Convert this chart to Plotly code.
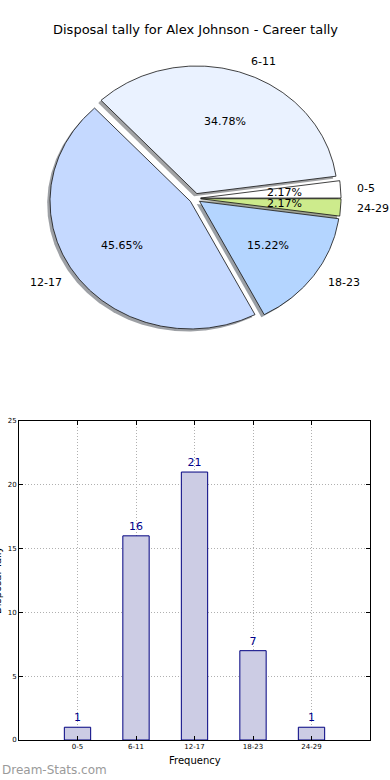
import numpy as np
import plotly.graph_objects as go

# ---- data ----
categories = ["0-5", "6-11", "12-17", "18-23", "24-29"]
tally = [1, 16, 21, 7, 1]
pie_colors = ["#ffffff", "#eaf2ff", "#c5d9ff", "#b4d5ff", "#cdeb8c"]
title_text = "Disposal tally for Alex Johnson - Career tally"
y_ticks = [0, 5, 10, 15, 20, 25]

# ---- styling params ----
explode = 0.04
shadow_off = (-0.02, -0.02)
label_dist = 1.1
pct_dist = 0.6
FONT = "DejaVu Sans"
W, H = 390, 780


def paper_y(y):
    return 1 - y / H


fig = go.Figure()

vals = np.array(tally, dtype=float)
fracs = vals / vals.sum()
cum = np.concatenate([[0.0], np.cumsum(fracs)]) * 360.0


def hex_rgb(h):
    h = h.lstrip("#")
    return tuple(int(h[i:i + 2], 16) for i in (0, 2, 4))


wedges = []
for i, cat in enumerate(categories):
    t1, t2 = np.radians(cum[i]), np.radians(cum[i + 1])
    mid = 0.5 * (t1 + t2)
    ox, oy = explode * np.cos(mid), explode * np.sin(mid)
    th = np.linspace(t1, t2, max(int(np.degrees(t2 - t1)) * 2, 8))
    xs = np.concatenate([[ox], ox + np.cos(th), [ox]])
    ys = np.concatenate([[oy], oy + np.sin(th), [oy]])
    wedges.append((xs, ys, mid, ox, oy))

# shadows first
for i, (xs, ys, mid, ox, oy) in enumerate(wedges):
    r, g, b = hex_rgb(pie_colors[i])
    fig.add_trace(go.Scatter(
        x=xs + shadow_off[0], y=ys + shadow_off[1], mode="lines", fill="toself",
        fillcolor=f"rgba({int(r*0.3)},{int(g*0.3)},{int(b*0.3)},0.5)",
        line=dict(width=0), hoverinfo="skip", showlegend=False,
        xaxis="x", yaxis="y"))

for i, (xs, ys, mid, ox, oy) in enumerate(wedges):
    fig.add_trace(go.Scatter(
        x=xs, y=ys, mode="lines", fill="toself", fillcolor=pie_colors[i],
        line=dict(color="#111111", width=0.8), hoverinfo="skip",
        showlegend=False, xaxis="x", yaxis="y"))

annotations = []
for i, (xs, ys, mid, ox, oy) in enumerate(wedges):
    lx = ox + label_dist * np.cos(mid)
    ly = oy + label_dist * np.sin(mid)
    annotations.append(dict(
        x=lx, y=ly, xref="x", yref="y", text=categories[i], showarrow=False,
        xanchor="left" if lx > 0 else "right", yanchor="middle",
        font=dict(family=FONT, size=11, color="black")))
    px_ = ox + pct_dist * np.cos(mid)
    py_ = oy + pct_dist * np.sin(mid)
    annotations.append(dict(
        x=px_, y=py_, xref="x", yref="y", text=f"{fracs[i]*100:.2f}%",
        showarrow=False, xanchor="center", yanchor="middle",
        font=dict(family=FONT, size=11, color="black")))

# ---- bar chart ----
fig.add_trace(go.Bar(
    x=categories, y=tally, width=0.45,
    marker=dict(color="#ccccE4", line=dict(color="#000080", width=1)),
    text=[str(v) for v in tally], textposition="outside",
    textfont=dict(family=FONT, size=11, color="#00008b"),
    cliponaxis=False, hoverinfo="skip", showlegend=False,
    xaxis="x2", yaxis="y2"))

annotations += [
    dict(x=0.5, y=paper_y(30), xref="paper", yref="paper", text=title_text,
         showarrow=False, xanchor="center", yanchor="middle",
         font=dict(family=FONT, size=13, color="black")),
    dict(x=(19 + 370) / 2 / W, y=paper_y(760), xref="paper", yref="paper",
         text="Frequency", showarrow=False, xanchor="center", yanchor="middle",
         font=dict(family=FONT, size=10, color="black")),
    dict(x=-3 / W, y=paper_y(580), xref="paper", yref="paper",
         text="Disposal Tally", textangle=-90, showarrow=False,
         xanchor="center", yanchor="middle",
         font=dict(family=FONT, size=10, color="black")),
    dict(x=0, y=paper_y(770), xref="paper", yref="paper",
         text="Dream-Stats.com", showarrow=False, xanchor="left",
         yanchor="middle", font=dict(family=FONT, size=12, color="#9a9a9a")),
]

# pie geometry in pixels
Rx, Ry, cx, cy = 140.4, 127.6, 195.0, 198.4
pie_h = H / 2
grid_dash = "1px,2px"
fig.update_layout(
    width=W, height=H, autosize=False,
    margin=dict(l=0, r=0, t=0, b=0, autoexpand=False),
    paper_bgcolor="white", plot_bgcolor="white",
    showlegend=False,
    annotations=annotations,
    xaxis=dict(domain=[0, 1], range=[-cx / Rx, (W - cx) / Rx],
               visible=False, fixedrange=True),
    yaxis=dict(domain=[0.5, 1], range=[-(pie_h - cy) / Ry, cy / Ry],
               visible=False, fixedrange=True),
    xaxis2=dict(domain=[19 / W, 370 / W], anchor="y2", type="category",
                range=[-1, 5], showgrid=True, gridcolor="#b0b0b0",
                griddash=grid_dash, gridwidth=1, showline=True,
                linecolor="black", linewidth=1, mirror="ticks",
                ticks="inside", ticklen=4, tickcolor="black",
                tickfont=dict(family=FONT, size=7, color="black"),
                layer="above traces", zeroline=False, fixedrange=True,
                automargin=False),
    yaxis2=dict(domain=[paper_y(740), paper_y(421)], anchor="x2",
                range=[0, 25], tickvals=y_ticks, showgrid=True,
                gridcolor="#b0b0b0", griddash=grid_dash, gridwidth=1,
                showline=True, linecolor="black", linewidth=1,
                mirror="ticks", ticks="inside", ticklen=4,
                tickcolor="black",
                tickfont=dict(family=FONT, size=7, color="black"),
                layer="above traces", zeroline=False, fixedrange=True,
                automargin=False),
)

fig.write_html(
    "out.html",
    config={"displayModeBar": False, "staticPlot": True},
    post_script="document.body.style.margin='0';document.body.style.overflow='hidden';",
)
